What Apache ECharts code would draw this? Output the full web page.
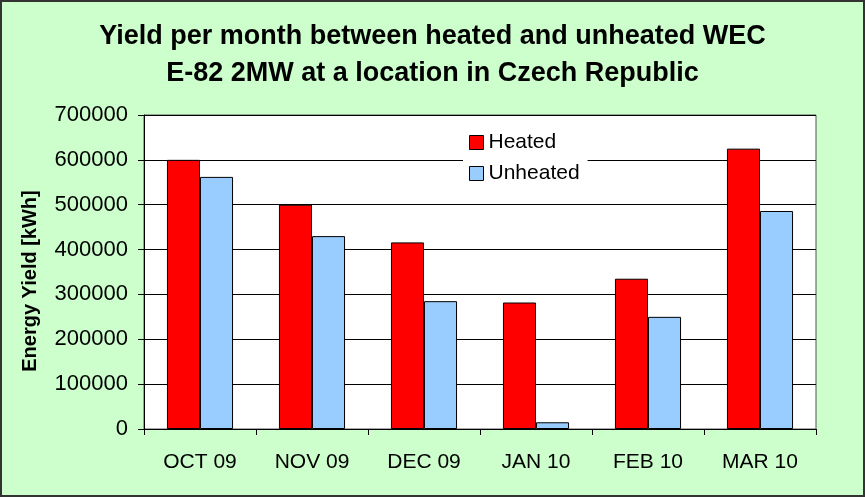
<!DOCTYPE html>
<html lang="en">
<head>
    <meta charset="UTF-8">
    <title>Yield per month</title>
    <script src="https://cdn.jsdelivr.net/npm/echarts@6/dist/echarts.min.js"></script>
    <style>
        html, body { margin: 0; padding: 0; background: #fff; }
        #main { width: 865px; height: 497px; box-sizing: border-box; border: 2px solid #333; }
    </style>
</head>
<body>
<div id="main"></div>

<script type="text/javascript">
    var months = ['OCT 09', 'NOV 09', 'DEC 09', 'JAN 10', 'FEB 10', 'MAR 10'];
    var heated = [600000, 500000, 416000, 282000, 335000, 625000];
    var unheated = [562000, 430000, 285000, 15000, 250000, 486000];

    var myChart = echarts.init(document.getElementById('main'));

    var font = 'Liberation Sans, Arial, sans-serif';

    var option = {
        backgroundColor: '#CCFFCC',
        textStyle: {fontFamily: font},
        title: {
            text: 'Yield per month between heated and unheated WEC\nE-82 2MW at a location in Czech Republic',
            left: 'center',
            top: 11,
            textStyle: {fontSize: 27, fontWeight: 'bold', color: '#000', lineHeight: 37, fontFamily: font}
        },
        legend: {
            data: ['Heated', 'Unheated'],
            orient: 'vertical',
            left: 461,
            top: 125,
            icon: 'rect',
            itemWidth: 14,
            itemHeight: 14,
            itemGap: 10,
            padding: [5, 8, 6, 6],
            backgroundColor: '#fff',
            itemStyle: {borderColor: '#000', borderWidth: 1},
            textStyle: {fontSize: 21, color: '#000', fontFamily: font}
        },
        grid: {
            left: 142,
            right: 47,
            top: 113,
            bottom: 66,
            show: true,
            backgroundColor: '#fff',
            borderColor: '#555',
            borderWidth: 1
        },
        xAxis: {
            type: 'category',
            data: months,
            axisLine: {lineStyle: {color: '#000', width: 1}},
            axisTick: {show: true, length: 6, lineStyle: {color: '#000'}},
            axisLabel: {fontSize: 21, color: '#000', margin: 23, fontFamily: font}
        },
        yAxis: {
            type: 'value',
            min: 0,
            max: 700000,
            interval: 100000,
            name: 'Energy Yield [kWh]',
            nameLocation: 'middle',
            nameGap: 104,
            nameTextStyle: {fontSize: 20, fontWeight: 'bold', color: '#000', fontFamily: font,
                padding: [0, 18, 0, 0]},
            axisLine: {show: true, lineStyle: {color: '#000', width: 1}},
            axisTick: {show: true, length: 6, lineStyle: {color: '#000'}},
            axisLabel: {fontSize: 22, color: '#000', margin: 16, fontFamily: font,
                formatter: function (v) { return String(v); }},
            splitLine: {lineStyle: {color: '#000', width: 1}}
        },
        series: [
            {
                name: 'Heated',
                type: 'bar',
                data: heated,
                barGap: '0%',
                barCategoryGap: '41%',
                itemStyle: {color: '#FF0000', borderColor: '#000', borderWidth: 1}
            },
            {
                name: 'Unheated',
                type: 'bar',
                data: unheated,
                itemStyle: {color: '#99CCFF', borderColor: '#000', borderWidth: 1}
            }
        ]
    };

    myChart.setOption(option);
</script>
</body>
</html>
